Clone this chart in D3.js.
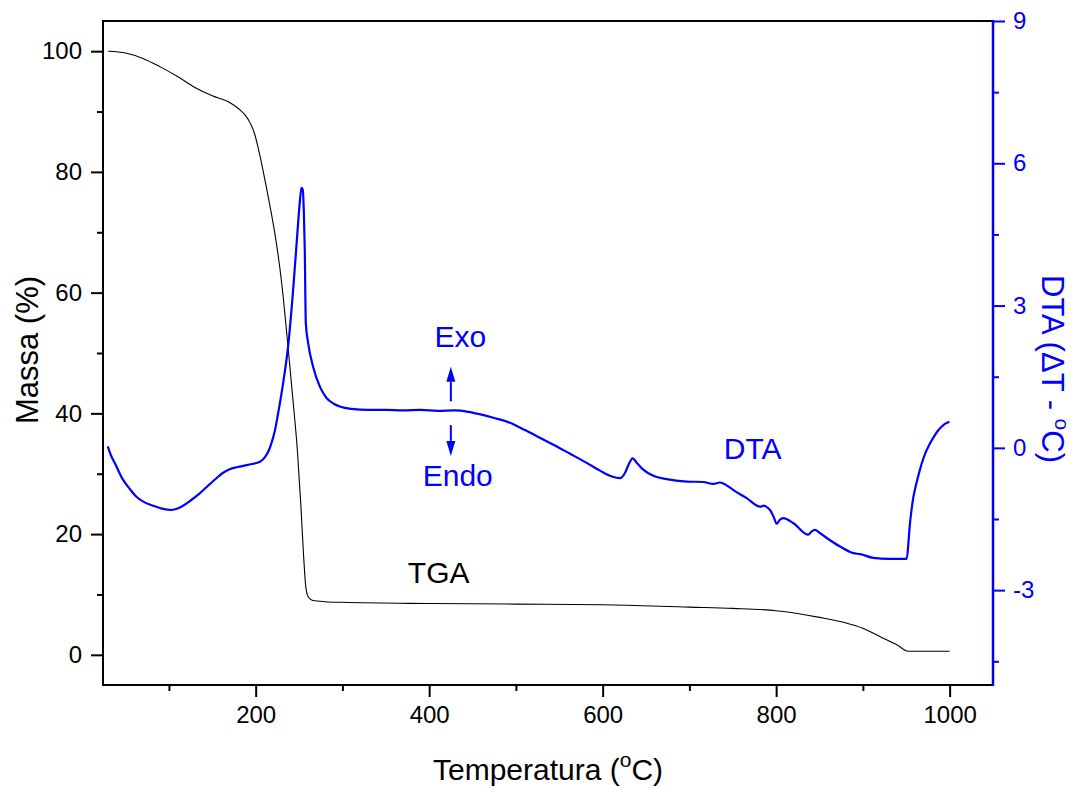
<!DOCTYPE html>
<html><head><meta charset="utf-8">
<script src="https://cdn.jsdelivr.net/npm/d3@7"></script>
<style>
body{margin:0;background:#fff;}
text{font-family:"Liberation Sans",Arial,Helvetica,sans-serif;}
</style></head>
<body><svg id="chart" width="1075" height="789"></svg>
<script>
// ---- data ----
const tgaTemp = [30,50,70,90,110,130,150,170,180,188,194,199,203,208,213,218,222,230,237,243,248,252,255,258,261,266,280,300,400,500,600,700,750,800,850,880,900,920,940,952,1000];
const tgaMass = [100,99.7,98.8,97.4,95.8,94.0,92.6,91.5,90.5,89.4,88.0,86.2,83.9,80.6,77.0,73.2,69.9,61.6,51.5,42.2,34.0,25.0,17.0,11.0,9.5,9.0,8.8,8.7,8.5,8.4,8.3,7.9,7.7,7.3,6.2,5.3,4.4,3.0,1.6,0.6,0.6];

const dtaTemp = [29.5,33,37.6,47,55,62.5,72,81.7,92,102.9,110,116.3,125,135.5,145,154.8,162,170.1,178,185.5,193,200.9,206,210.5,215.5,218.2,222,225.9,231.6,237.4,243.2,247.8,250.5,252.8,254.2,255.5,256.6,257.8,260.5,266.2,274,281.7,290,297,310,330,350,370,390,410,430,445,458,475,493,510,527,545,562,580,597,610,620,625.7,630,634.6,640,646.8,658.4,673.8,697,716,727.6,735.3,742,750.7,766,781.5,786,790,793,797,800.7,804,808.3,820,837,841,844.8,850,858.4,873.7,889,897,912,930,950.6,952.5,954,956,958,961,964,968,972,977,981.4,986,991,995,999.8];
const dtaDelta = [0.03,-0.15,-0.32,-0.67,-0.87,-1.03,-1.15,-1.22,-1.28,-1.31,-1.28,-1.22,-1.11,-0.96,-0.80,-0.64,-0.53,-0.45,-0.41,-0.38,-0.35,-0.32,-0.28,-0.20,-0.04,0.10,0.35,0.73,1.36,2.14,3.33,4.46,5.10,5.48,5.45,5.00,4.17,2.63,2.21,1.71,1.29,1.05,0.93,0.87,0.82,0.80,0.80,0.79,0.80,0.78,0.79,0.76,0.71,0.63,0.53,0.38,0.22,0.05,-0.12,-0.30,-0.48,-0.60,-0.64,-0.53,-0.35,-0.22,-0.33,-0.46,-0.59,-0.66,-0.71,-0.72,-0.76,-0.73,-0.78,-0.89,-1.06,-1.24,-1.22,-1.26,-1.31,-1.45,-1.60,-1.52,-1.48,-1.59,-1.83,-1.76,-1.73,-1.79,-1.90,-2.08,-2.22,-2.24,-2.32,-2.34,-2.34,-2.00,-1.65,-1.32,-1.06,-0.80,-0.58,-0.32,-0.11,0.08,0.22,0.35,0.45,0.51,0.55];

const xTicks = [200,400,600,800,1000];
const xMinor = [100,300,500,700,900];
const massTicks = [0,20,40,60,80,100];
const massMinor = [10,30,50,70,90];
const dtaTicks = [-3,0,3,6,9];
const dtaMinor = [-4.5,-1.5,1.5,4.5,7.5];

const xDomain = [24,1050];
const massDomain = [-5,105];
const dtaDomain = [-5,9];

// annotation anchors (data coords)
const exoArrow = {t:425, from:0.98, to:1.71};
const endoArrow = {t:425, from:0.48, to:-0.17};

// ---- layout ----
const L=103, R=993, T=21, B=685;
const svg = d3.select("#chart");
const x = d3.scaleLinear().domain(xDomain).range([L,R]);
const yM = d3.scaleLinear().domain(massDomain).range([B,T]);
const yD = d3.scaleLinear().domain(dtaDomain).range([B,T]);
const BLUE="#0000ff";
const fmt = d => String(d);

// curves
const tga = tgaTemp.map((t,i)=>[t,tgaMass[i]]);
const dta = dtaTemp.map((t,i)=>[t,dtaDelta[i]]);
svg.append("path").datum(tga)
  .attr("d", d3.line().x(d=>x(d[0])).y(d=>yM(d[1])).curve(d3.curveMonotoneX))
  .attr("fill","none").attr("stroke","#000").attr("stroke-width",1.1);
svg.append("path").datum(dta)
  .attr("d", d3.line().x(d=>x(d[0])).y(d=>yD(d[1])).curve(d3.curveMonotoneX))
  .attr("fill","none").attr("stroke",BLUE).attr("stroke-width",2.2).attr("stroke-linejoin","round");

// axes
function styleAxis(g,color){
  g.selectAll(".domain").remove();
  g.selectAll("line").attr("stroke",color).attr("stroke-width",2);
  g.selectAll("text").attr("fill",color).style("font-size","24px");
}
const gx = svg.append("g").attr("transform",`translate(0,${B})`)
  .call(d3.axisBottom(x).tickValues(xTicks).tickSize(12).tickPadding(9).tickFormat(fmt));
styleAxis(gx,"#000");
const gx2 = svg.append("g").attr("transform",`translate(0,${B})`)
  .call(d3.axisBottom(x).tickValues(xMinor).tickSize(6).tickFormat(""));
styleAxis(gx2,"#000");
const gy = svg.append("g").attr("transform",`translate(${L},0)`)
  .call(d3.axisLeft(yM).tickValues(massTicks).tickSize(12).tickPadding(9).tickFormat(fmt));
styleAxis(gy,"#000");
const gy2 = svg.append("g").attr("transform",`translate(${L},0)`)
  .call(d3.axisLeft(yM).tickValues(massMinor).tickSize(6).tickFormat(""));
styleAxis(gy2,"#000");
const gr = svg.append("g").attr("transform",`translate(${R},0)`)
  .call(d3.axisRight(yD).tickValues(dtaTicks).tickSize(12).tickPadding(8).tickFormat(fmt));
styleAxis(gr,BLUE);
const gr2 = svg.append("g").attr("transform",`translate(${R},0)`)
  .call(d3.axisRight(yD).tickValues(dtaMinor).tickSize(6).tickFormat(""));
styleAxis(gr2,BLUE);

// frame
svg.append("line").attr("x1",L).attr("x2",R).attr("y1",T).attr("y2",T).attr("stroke","#000").attr("stroke-width",2);
svg.append("line").attr("x1",L).attr("x2",R+1).attr("y1",B).attr("y2",B).attr("stroke","#000").attr("stroke-width",2);
svg.append("line").attr("x1",L).attr("x2",L).attr("y1",T-1).attr("y2",B+1).attr("stroke","#000").attr("stroke-width",2);
svg.append("line").attr("x1",R).attr("x2",R).attr("y1",T-1).attr("y2",B+1).attr("stroke",BLUE).attr("stroke-width",2.5);

// titles
const bt = svg.append("text").attr("x",548).attr("y",780).attr("text-anchor","middle").style("font-size","30px").attr("fill","#000");
bt.append("tspan").text("Temperatura (");
bt.append("tspan").text("o").style("font-size","21px").attr("dy",-13);
bt.append("tspan").text("C)").attr("dy",13);

svg.append("text").attr("transform","translate(38,350) rotate(-90)").attr("text-anchor","middle")
  .style("font-size","31px").attr("fill","#000").text("Massa (%)");

const rt = svg.append("text").attr("transform","translate(1042,369) rotate(90)").attr("text-anchor","middle")
  .style("font-size","31px").attr("fill",BLUE);
rt.append("tspan").text("DTA (ΔT - ");
rt.append("tspan").text("o").style("font-size","21px").attr("dy",-13);
rt.append("tspan").text("C)").attr("dy",13);

// annotations
svg.append("text").attr("x",x(436)).attr("y",yD(2.13)).attr("text-anchor","middle").style("font-size","30px").attr("fill",BLUE).text("Exo");
svg.append("text").attr("x",x(433)).attr("y",yD(-0.81)).attr("text-anchor","middle").style("font-size","30px").attr("fill",BLUE).text("Endo");
svg.append("text").attr("x",x(773)).attr("y",yD(-0.23)).attr("text-anchor","middle").style("font-size","30px").attr("fill",BLUE).text("DTA");
svg.append("text").attr("x",x(411)).attr("y",yM(11.9)).attr("text-anchor","middle").style("font-size","30px").attr("fill","#000").text("TGA");

function arrow(a){
  const xa=x(a.t), y0=yD(a.from), y1=yD(a.to);
  const dir = y1<y0 ? -1 : 1;
  const headLen=15, hw=4.5;
  svg.append("line").attr("x1",xa).attr("x2",xa).attr("y1",y0).attr("y2",y1-dir*headLen)
    .attr("stroke",BLUE).attr("stroke-width",2);
  svg.append("path").attr("d",`M${xa},${y1} L${xa-hw},${y1-dir*headLen} L${xa+hw},${y1-dir*headLen} Z`).attr("fill",BLUE);
}
arrow(exoArrow); arrow(endoArrow);
</script></body></html>
